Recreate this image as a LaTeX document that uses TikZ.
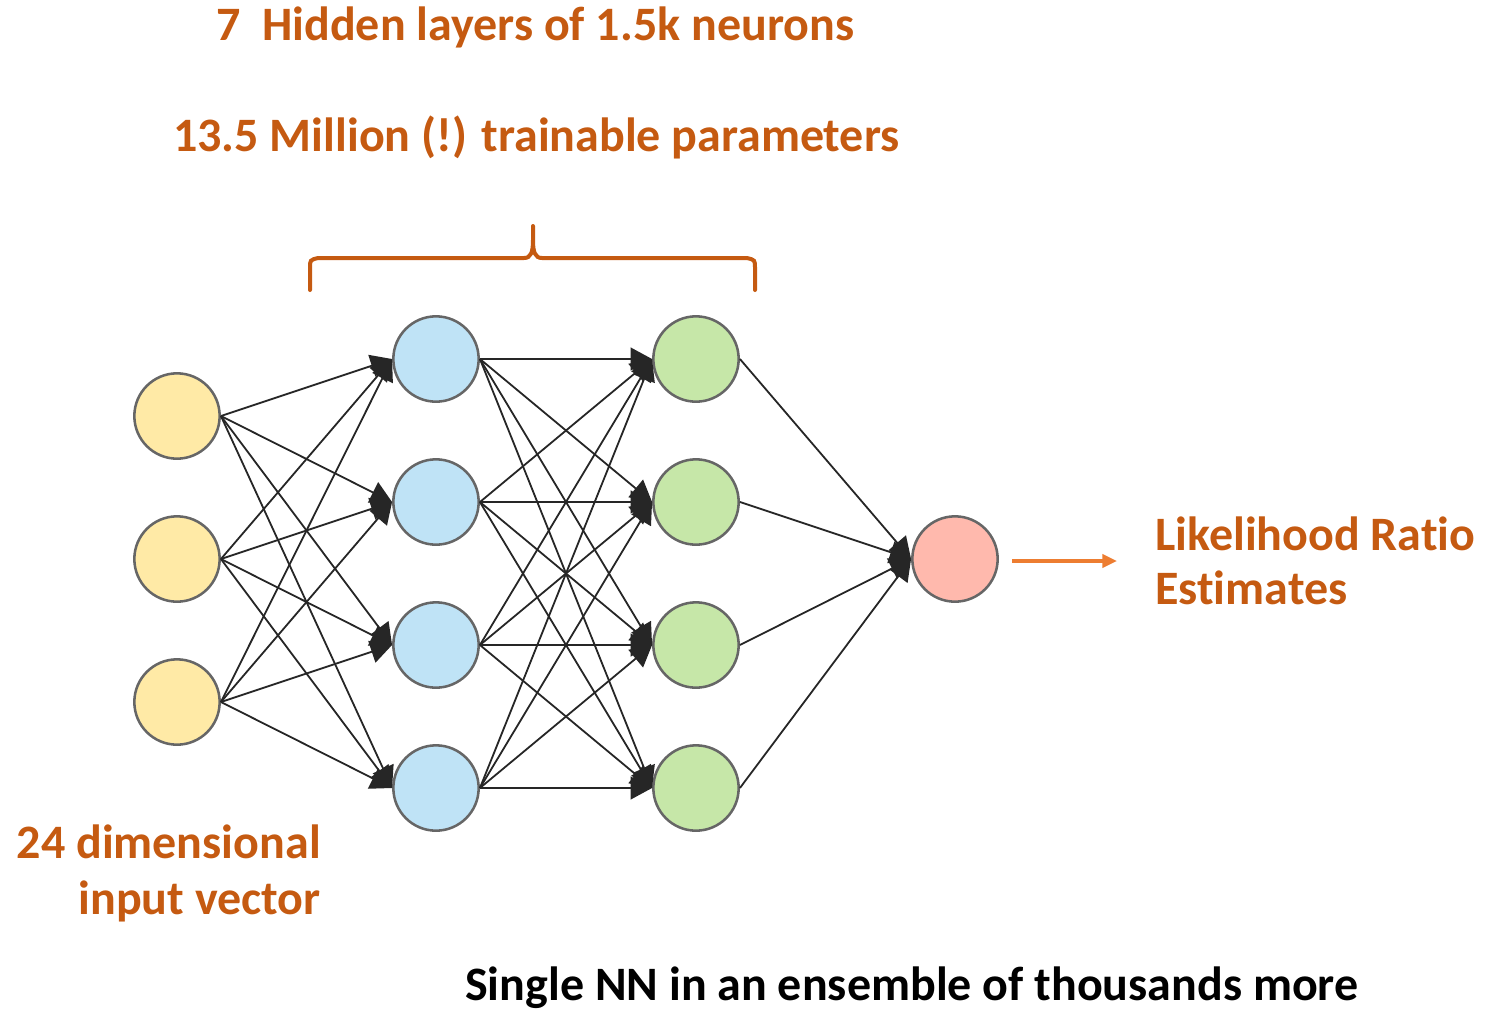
\documentclass[tikz,border=0pt]{standalone}
\usepackage{fontspec}
\setmainfont{Carlito}[Ligatures=NoCommon]
\usetikzlibrary{arrows.meta}
\definecolor{txtorange}{HTML}{C55A11}
\definecolor{arrorange}{HTML}{ED7D31}
\definecolor{inyellow}{HTML}{FFEAA6}
\definecolor{hidblue}{HTML}{BFE3F6}
\definecolor{hidgreen}{HTML}{C6E7A8}
\definecolor{outred}{HTML}{FFB9AD}
\definecolor{ringgray}{HTML}{666666}
\definecolor{edgegray}{HTML}{262626}
\tikzset{
  neuron/.style={circle, draw=ringgray, line width=1.9pt, minimum size=64pt, inner sep=0pt},
  link/.style={draw=edgegray, line width=1.35pt, -{Triangle[length=16pt,width=17pt]}},
  caption/.style={font=\bfseries\fontsize{36}{42}\selectfont, text=txtorange, inner sep=0pt},
}
\begin{document}
\begin{tikzpicture}[x=0.75pt, y=-0.75pt]
\useasboundingbox (0,0) rectangle (1486,1011);

% layers of neurons
\foreach \i/\y in {1/416, 2/559, 3/702}
  \node[neuron, fill=inyellow] (in\i) at (177,\y) {};
\foreach \i/\y in {1/359, 2/502, 3/645, 4/788} {
  \node[neuron, fill=hidblue] (ha\i) at (436,\y) {};
  \node[neuron, fill=hidgreen] (hb\i) at (696,\y) {};
}
\node[neuron, fill=outred] (out) at (955,559) {};

% fully connected weights, east side to west side
\foreach \i in {1,2,3}
  \foreach \j in {1,2,3,4}
    \draw[link] (in\i.east) -- (ha\j.west);
\foreach \i in {1,2,3,4}
  \foreach \j in {1,2,3,4}
    \draw[link] (ha\i.east) -- (hb\j.west);
\foreach \i in {1,2,3,4}
  \draw[link] (hb\i.east) -- (out.west);

% output arrow
\coordinate (src) at (1012,561);
\coordinate (res) at (1117,561);
\draw[draw=arrorange, line width=2.4pt, -{Triangle[length=11pt,width=10pt]}] (src) -- (res);

% brace over the hidden layers
\draw[draw=txtorange, line width=3pt, line cap=round]
  (310,290) -- (310,268) .. controls (310,260) .. (318,258) -- (524,258)
  .. controls (531,258) and (533,252) .. (533,240) -- (533,226)
  (533,240) .. controls (533,252) and (535,258) .. (542,258) -- (747,258)
  .. controls (755,260) .. (755,268) -- (755,290);

% labels
\node[caption, anchor=base west] (hid) at (216,40) {7\ \ Hidden layers of 1.5k neurons};
\node[caption, anchor=base west] (par) at (173,151) {13.5 Million (!) trainable parameters};
\node[caption, anchor=base west] (lr1) at (1155,550) {Likelihood Ratio};
\node[caption, anchor=base west] (lr2) at (1155,604) {Estimates};
\node[caption, anchor=base east] (dim1) at (321,858) {24 dimensional};
\node[caption, anchor=base east] (dim2) at (321,914) {input vector};
\node[caption, text=black, anchor=base west] (ens) at (465,1000) {Single NN in an ensemble of thousands more};
\end{tikzpicture}
\end{document}
